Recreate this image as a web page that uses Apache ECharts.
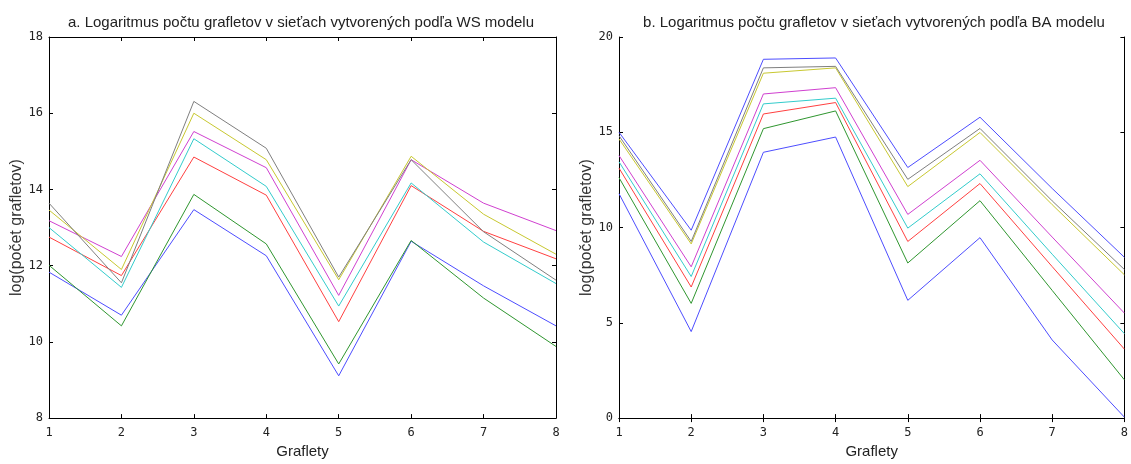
<!DOCTYPE html>
<html>
<head>
<meta charset="utf-8">
<title>Logaritmus počtu grafletov</title>
<script src="https://cdn.jsdelivr.net/npm/echarts@6/dist/echarts.min.js"></script>
<style>
    html, body { margin: 0; padding: 0; background: #fff; }
    #chart { width: 1131px; height: 464px; }
</style>
</head>
<body>
<div id="chart"></div>
<script>

// x values (graflety 1..8)
var graflety = [1, 2, 3, 4, 5, 6, 7, 8];

// a. WS model
var wsBlue    = [11.83, 10.70, 13.47, 12.26, 9.11, 12.64, 11.47, 10.42];
var wsGreen   = [12.01, 10.42, 13.87, 12.57, 9.42, 12.66, 11.15, 9.88];
var wsRed     = [12.75, 11.74, 14.85, 13.85, 10.53, 14.10, 12.90, 12.18];
var wsCyan    = [13.00, 11.43, 15.33, 14.08, 10.94, 14.17, 12.62, 11.53];
var wsMagenta = [13.18, 12.24, 15.52, 14.57, 11.22, 14.78, 13.64, 12.92];
var wsYellow  = [13.46, 11.90, 16.00, 14.78, 11.63, 14.87, 13.35, 12.30];
var wsBlack   = [13.64, 11.55, 16.31, 15.08, 11.70, 14.78, 12.89, 11.62];

// b. BA model
var baBlue    = [11.78, 4.54, 13.95, 14.75, 6.18, 9.47, 4.10, 0.05];
var baGreen   = [12.62, 6.02, 15.19, 16.12, 8.14, 11.41, 6.70, 2.01];
var baRed     = [13.12, 6.88, 15.96, 16.56, 9.27, 12.31, 7.95, 3.62];
var baCyan    = [13.45, 7.43, 16.49, 16.79, 9.97, 12.82, 8.60, 4.43];
var baMagenta = [13.78, 7.94, 17.01, 17.34, 10.69, 13.53, 9.50, 5.51];
var baYellow  = [14.65, 9.14, 18.10, 18.38, 12.15, 14.99, 11.20, 7.52];
var baBlack   = [14.82, 9.27, 18.38, 18.46, 12.53, 15.20, 11.40, 7.80];
var baBlue2   = [15.00, 9.86, 18.83, 18.90, 13.15, 15.79, 12.05, 8.44];

var wsSeries = [wsBlue, wsGreen, wsRed, wsCyan, wsMagenta, wsYellow, wsBlack];
var baSeries = [baBlue, baGreen, baRed, baCyan, baMagenta, baYellow, baBlack, baBlue2];

var wsColors = ['#4d4dff', '#2f962f', '#ff4040', '#33cccc', '#d040d0', '#c8c830', '#7f7f7f'];
var baColors = ['#4d4dff', '#2f962f', '#ff4040', '#33cccc', '#d040d0', '#c8c830', '#7f7f7f', '#4d4dff'];

var titleA = 'a. Logaritmus počtu grafletov v sieťach vytvorených podľa WS modelu';
var titleB = 'b. Logaritmus počtu grafletov v sieťach vytvorených podľa BA modelu';


function pairs(values) {

    var out = [];

    for (var i = 0; i < graflety.length; i++) {
        out.push([graflety[i], values[i]]);
    }

    return out;
}


var tickFont = {
    fontFamily: 'DejaVu Sans Mono',
    fontSize: 12,
    color: '#222'
};

var lineStyleAxis = { color: '#000', width: 1 };


//----------- build axes for one panel ---------//

function panelAxes(gridIndex, yMin, yMax, yStep) {

    var xs = [
        {
            type: 'value', gridIndex: gridIndex, min: 1, max: 8, interval: 1,
            position: 'bottom',
            name: 'Graflety', nameLocation: 'middle', nameGap: 14,
            nameTextStyle: { fontFamily: 'Liberation Sans', fontSize: 15, color: '#222', verticalAlign: 'top' },
            axisLine: { show: true, lineStyle: lineStyleAxis },
            axisTick: { show: true, inside: true, length: 4, lineStyle: lineStyleAxis },
            axisLabel: Object.assign({ margin: 9 }, tickFont),
            splitLine: { show: false }
        },
        {
            type: 'value', gridIndex: gridIndex, min: 1, max: 8, interval: 1,
            position: 'top',
            axisLine: { show: true, lineStyle: lineStyleAxis },
            axisTick: { show: true, inside: true, length: 4, lineStyle: lineStyleAxis },
            axisLabel: { show: false },
            splitLine: { show: false }
        }
    ];

    var ys = [
        {
            type: 'value', gridIndex: gridIndex, min: yMin, max: yMax, interval: yStep,
            position: 'left',
            name: 'log(počet grafletov)', nameLocation: 'middle', nameGap: 21, nameRotate: 90,
            nameTextStyle: { fontFamily: 'Liberation Sans', fontSize: 16, color: '#333' },
            axisLine: { show: true, lineStyle: lineStyleAxis },
            axisTick: { show: true, inside: true, length: 4, lineStyle: lineStyleAxis },
            axisLabel: Object.assign({ margin: 6 }, tickFont),
            splitLine: { show: false }
        },
        {
            type: 'value', gridIndex: gridIndex, min: yMin, max: yMax, interval: yStep,
            position: 'right',
            axisLine: { show: true, lineStyle: lineStyleAxis },
            axisTick: { show: true, inside: true, length: 4, lineStyle: lineStyleAxis },
            axisLabel: { show: false },
            splitLine: { show: false }
        }
    ];

    return { x: xs, y: ys };
}


var axesA = panelAxes(0, 8, 18, 2);
var axesB = panelAxes(1, 0, 20, 5);

var series = [];

for (var a = 0; a < wsSeries.length; a++) {
    series.push({
        type: 'line', xAxisIndex: 0, yAxisIndex: 0,
        data: pairs(wsSeries[a]),
        symbol: 'none', silent: true,
        lineStyle: { width: 1, color: wsColors[a] },
        itemStyle: { color: wsColors[a] }
    });
}

for (var b = 0; b < baSeries.length; b++) {
    series.push({
        type: 'line', xAxisIndex: 2, yAxisIndex: 2,
        data: pairs(baSeries[b]),
        symbol: 'none', silent: true,
        lineStyle: { width: 1, color: baColors[b] },
        itemStyle: { color: baColors[b] }
    });
}


var chart = echarts.init(document.getElementById('chart'));

var option = {
    animation: false,
    backgroundColor: '#fff',
    title: [
        {
            text: titleA, left: 296, top: 10, textAlign: 'center',
            textStyle: { fontFamily: 'Liberation Sans', fontSize: 15, fontWeight: 'normal', color: '#222' }
        },
        {
            text: titleB, left: 869, top: 10, textAlign: 'center',
            textStyle: { fontFamily: 'Liberation Sans', fontSize: 15, fontWeight: 'normal', color: '#222' }
        }
    ],
    grid: [
        { left: 49, top: 37, width: 507, height: 400 },
        { left: 619, top: 37, width: 506, height: 400 }
    ],
    xAxis: axesA.x.concat(axesB.x),
    yAxis: axesA.y.concat(axesB.y),
    series: series
};

chart.setOption(option);

</script>
</body>
</html>
